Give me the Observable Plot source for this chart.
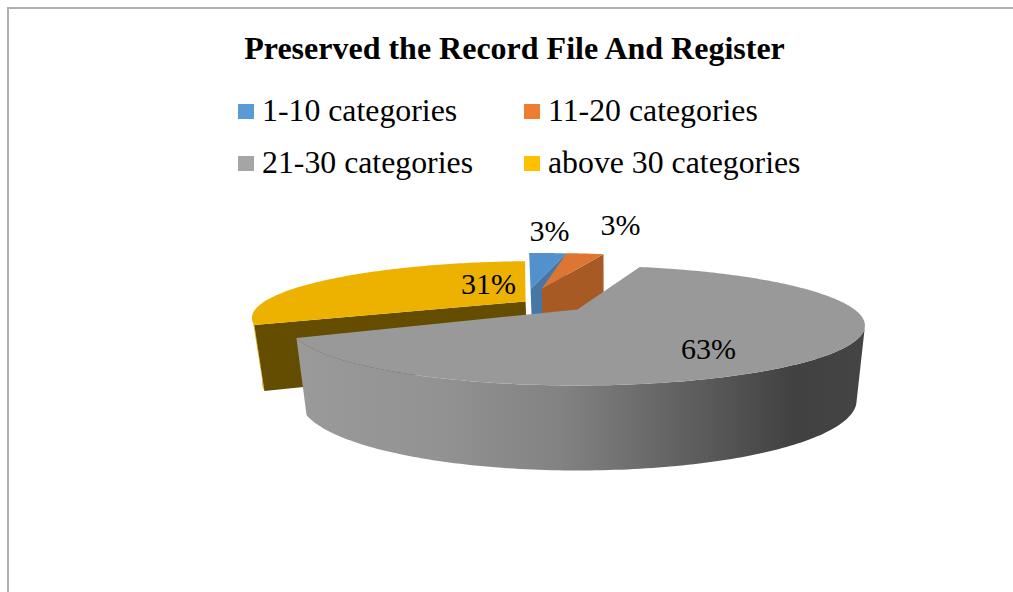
<!DOCTYPE html>
<html>
<head>
<meta charset="utf-8">
<script src="https://cdn.jsdelivr.net/npm/d3@7"></script>
<script src="https://cdn.jsdelivr.net/npm/@observablehq/plot@0.6"></script>
<style>
  html, body { margin: 0; padding: 0; background: #fff; overflow: hidden; }
  #page { position: relative; width: 1013px; height: 592px; overflow: hidden; font-family: "Liberation Serif", serif; color: #000; }
  #frame { position: absolute; left: 7px; top: 7px; width: 1100px; height: 700px; border: 2px solid #b0b0b0; box-sizing: border-box; }
  #title { position: absolute; left: 0; width: 1029px; top: 30px; text-align: center; font-weight: bold; font-size: 32px; line-height: 36px; white-space: nowrap; }
  #legend { position: absolute; left: 238px; top: 85px; display: grid; grid-template-columns: 286px auto; grid-auto-rows: 52px; font-size: 31.8px; white-space: nowrap; }
  #legend div { display: flex; align-items: center; }
  #legend i { display: inline-block; width: 16px; height: 15px; margin-right: 8px; }
  #chart { position: absolute; left: 0; top: 190px; }
  #chart svg { display: block; background: transparent; }
</style>
</head>
<body>
<div id="page">
  <div id="frame"></div>
  <div id="title"></div>
  <div id="legend"></div>
  <div id="chart"></div>
</div>
<script>
const chartTitle = "Preserved the Record File And Register";
const categories = ["1-10 categories", "11-20 categories", "21-30 categories", "above 30 categories"];
const shares = [3, 3, 63, 31];
const legendColors = ["#5b9bd5", "#ed7d31", "#a5a5a5", "#ffc000"];
const topColors = ["#5291cb", "#dd7632", "#999999", "#edb200"];
const wallColors = ["#4677a6", "#a85a25", "url(#grayWall)", "#edb200"];
const cutColors = ["#4677a6", "#a85a25", "#959595", "#644d00"];
const visibleCut = ["end", "end", null, "start"];

// explosion of every slice in the pie's own plane, and how it is turned and sized
const shiftU = [-0.188, -0.144, 0, -0.195];
const shiftV = [0.41, 0.41, 0, 0.149];
const turn = [0, -2.5, -2.2, 0];
const size = [0.98, 0.98, 1, 0.98];
const depth = [1, 1, 1, 0.88];
const labelRadius = [1.83, 2.158, 0.721, 0.399];
const labelAngle = [0.83, 10.8, 146.6, 334.8];
const firstAngle = -3;

const K = 0.267;
const topCam = {x: 577, y: 309, a: 277, b: 55.7};
const baseCam = {x: 578, y: 381.3, a: 268, b: 65};
const project = (cam, u, v) => {
  const w = 1 + K * v;
  return [cam.x + cam.a * u / w, cam.y - cam.b * v / w];
};
const rad = d => d * Math.PI / 180;

const total = d3.sum(shares);
let running = firstAngle;
const slices = shares.map((s, i) => {
  const from = running + turn[i];
  const sweep = s / total * 360;
  running += sweep;
  const n = Math.ceil(sweep);
  const steps = d3.range(0, n + 1).map(k => from + sweep * k / n);
  const at = (cam, deg) => project(cam, shiftU[i] + size[i] * Math.sin(rad(deg)), shiftV[i] + size[i] * Math.cos(rad(deg)));
  const lower = deg => {
    const a = at(topCam, deg), b = at(baseCam, deg);
    return [a[0] + (b[0] - a[0]) * depth[i], a[1] + (b[1] - a[1]) * depth[i]];
  };
  const apexTop = project(topCam, shiftU[i], shiftV[i]);
  const apexLow = project(baseCam, shiftU[i], shiftV[i]);
  const apexBase = [apexTop[0] + (apexLow[0] - apexTop[0]) * depth[i], apexTop[1] + (apexLow[1] - apexTop[1]) * depth[i]];
  const face = [apexTop, ...steps.map(d => at(topCam, d))];
  // only the part of the rim that turns towards the viewer
  const front = steps.filter(d => Math.cos(rad(d)) < -K);
  const outer = [...front.map(d => at(topCam, d)), ...front.slice().reverse().map(d => lower(d))];
  const cutDeg = visibleCut[i] === "end" ? steps[steps.length - 1] : steps[0];
  const cut = visibleCut[i] ? [apexTop, at(topCam, cutDeg), lower(cutDeg), apexBase] : [];
  const la = rad(labelAngle[i]);
  const label = project(topCam, shiftU[i] + labelRadius[i] * Math.sin(la), shiftV[i] + labelRadius[i] * Math.cos(la));
  return {i, face, outer, cut, label, text: s + "%"};
});

const poly = (pts, fill) => Plot.line(pts, {x: d => d[0], y: d => d[1], fill, stroke: "none"});

const gradient = () => {
  const svgNS = "http://www.w3.org/2000/svg";
  const defs = document.createElementNS(svgNS, "defs");
  const g = document.createElementNS(svgNS, "linearGradient");
  g.setAttribute("id", "grayWall");
  g.setAttribute("gradientUnits", "userSpaceOnUse");
  g.setAttribute("x1", 300); g.setAttribute("x2", 860);
  g.setAttribute("y1", 0); g.setAttribute("y2", 0);
  [[0, "#9a9a9a"], [0.25, "#929292"], [0.46, "#838383"], [0.61, "#6c6c6c"], [0.75, "#565656"], [0.88, "#414141"], [1, "#444444"]].forEach(([o, c]) => {
    const s = document.createElementNS(svgNS, "stop");
    s.setAttribute("offset", o); s.setAttribute("stop-color", c);
    g.appendChild(s);
  });
  defs.appendChild(g);
  return defs;
};

// draw order: the far slice, the two small ones, then the big front slice
const marks = [gradient];
[3, 0, 1, 2].forEach(i => {
  const s = slices[i];
  if (s.outer.length) marks.push(poly(s.outer, wallColors[i]));
  if (s.cut.length) marks.push(poly(s.cut, cutColors[i]));
  marks.push(poly(s.face, topColors[i]));
});
marks.push(Plot.text(slices, {
  x: d => d.label[0], y: d => d.label[1], text: "text",
  fontSize: 30, fontFamily: "Liberation Serif", fill: "#000", lineAnchor: "middle", textAnchor: "middle"
}));

const chart = Plot.plot({
  width: 1013, height: 402,
  margin: 0, marginTop: 0, marginRight: 0, marginBottom: 0, marginLeft: 0,
  x: {domain: [0, 1013], range: [0, 1013], axis: null},
  y: {domain: [190, 592], range: [0, 402], axis: null},
  style: {background: "transparent", overflow: "visible"},
  marks
});
document.getElementById("chart").appendChild(chart);

document.getElementById("title").textContent = chartTitle;
const legend = document.getElementById("legend");
categories.forEach((c, i) => {
  const row = document.createElement("div");
  const swatch = document.createElement("i");
  swatch.style.background = legendColors[i];
  row.appendChild(swatch);
  row.appendChild(document.createTextNode(c));
  legend.appendChild(row);
});
</script>
</body>
</html>
